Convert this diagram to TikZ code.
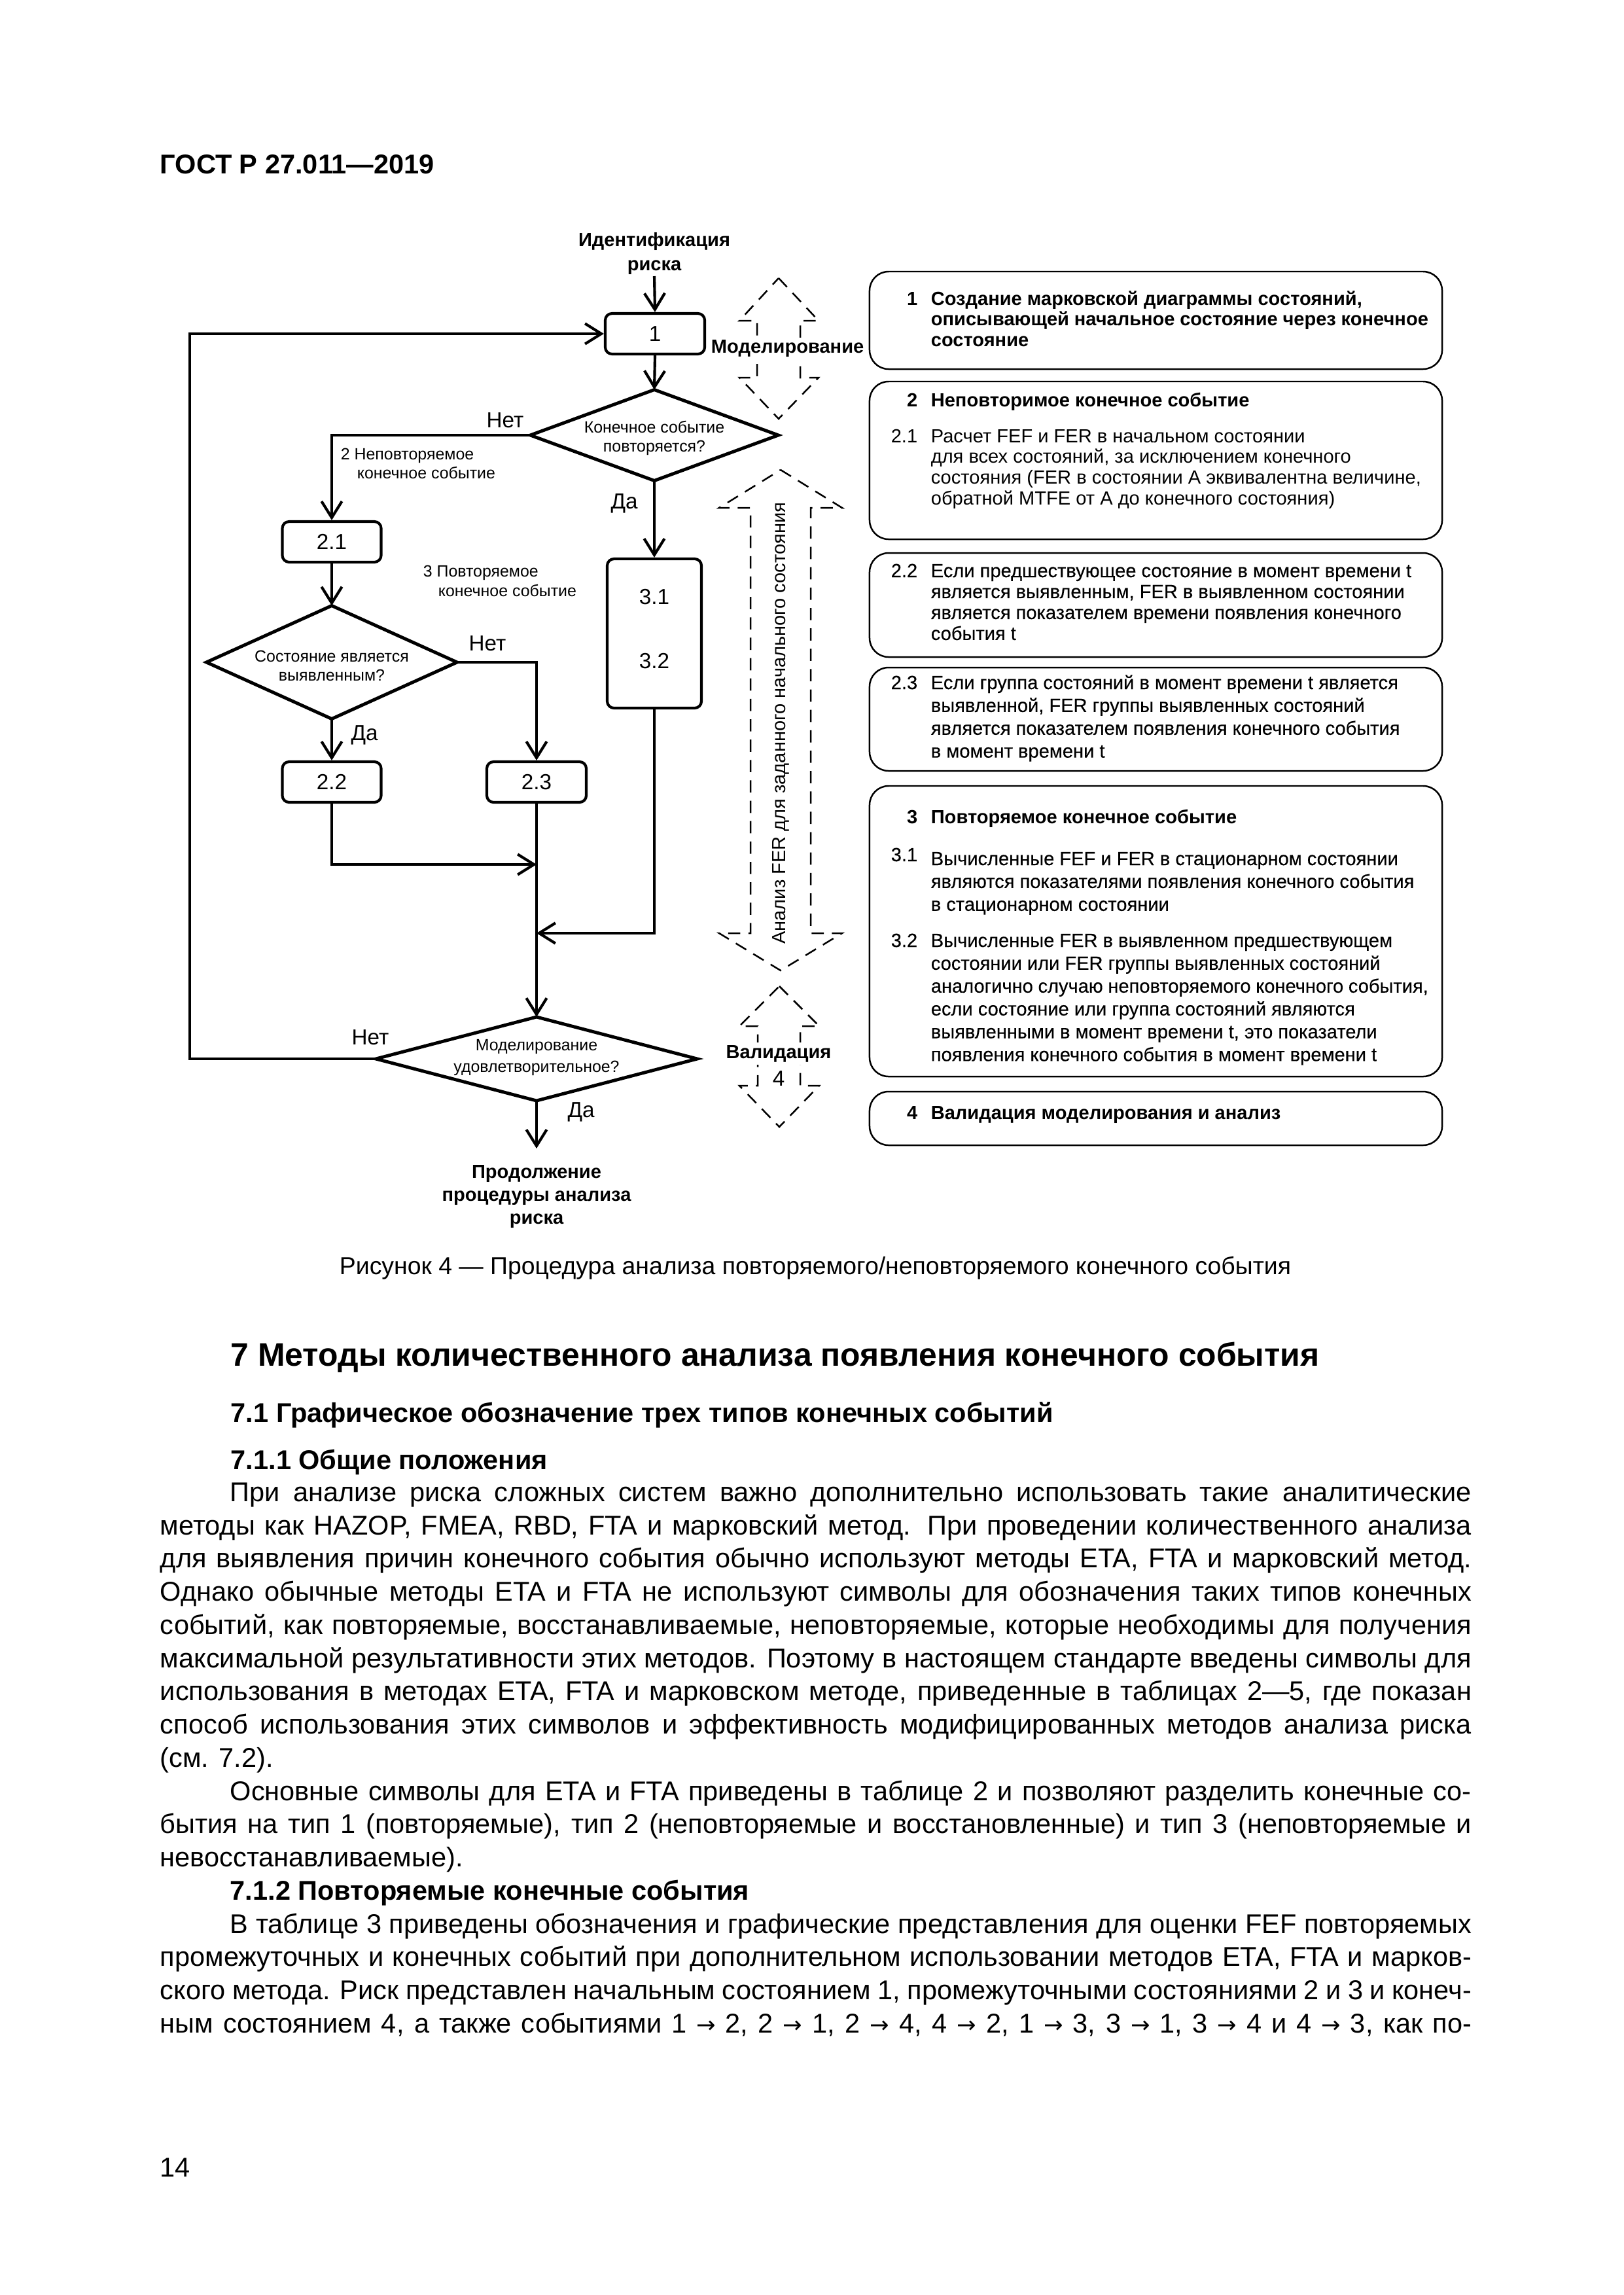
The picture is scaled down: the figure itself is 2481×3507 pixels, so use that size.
\documentclass[tikz,border=0pt]{standalone}
\usepackage{fontspec}
\setmainfont{Liberation Sans}
\newfontfamily\semib{Liberation Sans}[FakeBold=0.35]
\newfontfamily\arrfont{DejaVu Sans}
\newcommand\ar{{\arrfont\fontsize{8.5}{12}\selectfont →}}
\usetikzlibrary{arrows.meta}
\newdimen\PX \PX=0.24083pt
\def\p{0.24083pt}
\newcommand\fs[2]{\fontsize{#1}{#2}\selectfont}
\tikzset{
 fb/.style={draw, line width=1pt, rounded corners=2.5pt, inner sep=0pt, font=\fs{8}{9.6}},
 rb/.style={draw, line width=0.6pt, rounded corners=7pt, inner sep=0pt, minimum width=875*\p},
 ln/.style={line width=1pt},
 arw/.style={line width=1pt, -{Straight Barb[length=6pt,width=7.5pt]}},
 dm/.style={line width=1.2pt, line join=miter},
 da/.style={line width=0.6pt, dash pattern=on 4.5pt off 3pt},
 lbl/.style={inner sep=0pt, font=\fs{8}{9.6}},
 sm/.style={inner sep=0pt, align=center, anchor=north},
 smt/.style={inner sep=0pt, anchor=base west, font=\fs{6}{7}},
 bl/.style={inner sep=0pt, align=center, anchor=north},
 num/.style={inner sep=0pt, anchor=base east},
 bt/.style={inner sep=0pt, anchor=base west},
 body/.style={inner sep=0pt, anchor=base west, font=\fs{10}{12}},
}
\begin{document}
\begin{tikzpicture}[x=0.0846433mm,y=-0.0846433mm]
\fill[white] (0,0) rectangle (2481,3507);
\useasboundingbox (0,0) rectangle (2481,3507);

% header
\node[body, font=\bfseries\fs{10}{12}] (hdr) at (244,265) {ГОСТ Р 27.011—2019};

% dashed double arrows
\draw[da] (1190,425) -- (1251,490) -- (1223,490) -- (1223,577) -- (1251,577) -- (1190,640) -- (1130,577) -- (1157,577) -- (1157,490) -- (1130,490) -- cycle;
\draw[da] (1193,718) -- (1287,776) -- (1239,776) -- (1239,1426) -- (1287,1426) -- (1193,1483) -- (1099,1426) -- (1147,1426) -- (1147,776) -- (1099,776) -- cycle;
\draw[da] (1191,1507) -- (1252,1568) -- (1223,1568) -- (1223,1659) -- (1252,1659) -- (1191,1722) -- (1130,1659) -- (1158,1659) -- (1158,1568) -- (1130,1568) -- cycle;
\node[inner sep=1pt, fill=white, anchor=west, font=\bfseries\fs{7}{8}] (mod) at (1082,533) {Моделирование};
\node[inner sep=1pt, fill=white, font=\bfseries\fs{7}{8}] (val) at (1190,1610) {Валидация};
\node[inner sep=1pt, fill=white, font=\fs{8}{9}] (val4) at (1190,1648) {4};
\node[rotate=90, inner sep=0pt, font=\fs{7}{8}] (fer) at (1193,1105) {Анализ FER для заданного начального состояния};

% flow boxes
\node[fb, minimum width=152*\p, minimum height=62*\p] (b1) at (1001,510) {1};
\node[fb, minimum width=151*\p, minimum height=62*\p] (b21) at (507,828) {2.1};
\node[fb, minimum width=151*\p, minimum height=62*\p] (b22) at (507,1195) {2.2};
\node[fb, minimum width=152*\p, minimum height=62*\p] (b23) at (820,1195) {2.3};
\node[fb, minimum width=144*\p, minimum height=228*\p] (b3) at (1000,968) {};
\node[lbl] (t31) at (1000,912) {3.1};
\node[lbl] (t32) at (1000,1010) {3.2};

% diamonds
\coordinate (d1t) at (1000,595.5); \coordinate (d1b) at (1000,734.5);
\coordinate (d1l) at (810.5,665);  \coordinate (d1r) at (1189.5,665);
\draw[dm] (d1t) -- (d1r) -- (d1b) -- (d1l) -- cycle;
\node[sm, font=\fs{6}{7}] (d1txt) at (1000,642) {Конечное событие\\повторяется?};

\coordinate (d2t) at (507,925.5); \coordinate (d2b) at (507,1098.5);
\coordinate (d2l) at (315.5,1012); \coordinate (d2r) at (698.5,1012);
\draw[dm] (d2t) -- (d2r) -- (d2b) -- (d2l) -- cycle;
\node[sm, font=\fs{6}{7}] (d2txt) at (507,993) {Состояние является\\выявленным?};

\coordinate (d3t) at (820,1554); \coordinate (d3b) at (820,1682);
\coordinate (d3l) at (574.5,1618); \coordinate (d3r) at (1065.5,1618);
\draw[dm] (d3t) -- (d3r) -- (d3b) -- (d3l) -- cycle;
\node[sm, font=\fs{6}{7.9}] (d3txt) at (820,1588) {Моделирование\\удовлетворительное?};

% texts
\node[bl, font=\bfseries\fs{7}{8.7}] (id) at (1000,355) {Идентификация\\риска};
\node[bl, font=\bfseries\fs{7}{8.43}] (cont) at (820,1780) {Продолжение\\процедуры анализа\\риска};
\node[lbl] (no1) at (772,642) {Нет};
\node[lbl] (yes1) at (954,769) {Да};
\node[lbl] (no2) at (745,983) {Нет};
\node[lbl] (yes2) at (557,1123) {Да};
\node[lbl] (no3) at (566,1585) {Нет};
\node[lbl] (yes3) at (888,1699) {Да};
\node[smt] (n2a) at (520,702) {2 Неповторяемое};
\node[smt] (n2b) at (545,731) {конечное событие};
\node[smt] (n3a) at (646,881) {3 Повторяемое};
\node[smt] (n3b) at (669,911) {конечное событие};

% connectors
\coordinate (idend) at (1000,422);
\coordinate (j1) at (820,1321);
\coordinate (j2) at (820,1426);
\coordinate (c3) at (290,1618);
\coordinate (endc) at (820,1755);
\draw[arw] (idend) -- (b1.north);
\draw[arw] (b1.south) -- (d1t);
\draw[arw] (d1l) -| (b21.north);
\draw[arw] (d1b) -- (b3.north);
\draw[arw] (b21.south) -- (d2t);
\draw[arw] (d2b) -- (b22.north);
\draw[arw] (d2r) -| (b23.north);
\draw[arw] (b22.south) |- (j1);
\draw[arw] (b3.south) |- (j2);
\draw[arw] (b23.south) -- (d3t);
\draw[arw] (d3l) -- (c3) |- (b1.west);
\draw[arw] (d3b) -- (endc);

% right boxes
\node[rb, minimum height=149*\p] (ra) at (1766.5,489.5) {};
\node[rb, minimum height=241*\p] (rbx) at (1766.5,703.5) {};
\node[rb, minimum height=159*\p] (rc) at (1766.5,924.5) {};
\node[rb, minimum height=158*\p] (rd) at (1766.5,1099) {};
\node[rb, minimum height=444*\p] (re) at (1766.5,1423) {};
\node[rb, minimum height=82*\p] (rf) at (1766.5,1709) {};

\node[num, font=\bfseries\fs{7}{7.7}] (an) at (1403,466) {1};
\node[bt] (at) at (1422,466) {\parbox[t]{760\PX}{\bfseries\fs{7}{7.7}Создание марковской диаграммы состояний,\\описывающей начальное состояние через конечное\\состояние}};
\node[num, font=\bfseries\fs{7}{7.7}] (bn) at (1403,621) {2};
\node[bt, font=\bfseries\fs{7}{7.7}] (bh) at (1422,621) {Неповторимое конечное событие};
\node[num, font=\fs{7}{7.7}] (bn1) at (1403,676) {2.1};
\node[bt] (bt1) at (1422,676) {\parbox[t]{760\PX}{\fs{7}{7.7}Расчет FEF и FER в начальном состоянии\\для всех состояний, за исключением конечного\\состояния (FER в состоянии A эквивалентна величине,\\обратной MTFE от A до конечного состояния)}};
\node[num, font=\semib\fs{7}{7.7}] (cn) at (1403,882) {2.2};
\node[bt] (ct) at (1422,882) {\parbox[t]{760\PX}{\semib\fs{7}{7.7}Если предшествующее состояние в момент времени t\\является выявленным, FER в выявленном состоянии\\является показателем времени появления конечного\\события t}};
\node[num, font=\semib\fs{7}{8.4}] (dn) at (1403,1053) {2.3};
\node[bt] (dt) at (1422,1053) {\parbox[t]{760\PX}{\semib\fs{7}{8.4}Если группа состояний в момент времени t является\\выявленной, FER группы выявленных состояний\\является показателем появления конечного события\\в момент времени t}};
\node[num, font=\bfseries\fs{7}{8.4}] (en) at (1403,1258) {3};
\node[bt, font=\bfseries\fs{7}{8.4}] (eh) at (1422,1258) {Повторяемое конечное событие};
\node[num, font=\semib\fs{7}{8.4}] (en1) at (1403,1316) {3.1};
\node[bt] (et1) at (1422,1322) {\parbox[t]{760\PX}{\semib\fs{7}{8.4}Вычисленные FEF и FER в стационарном состоянии\\являются показателями появления конечного события\\в стационарном состоянии}};
\node[num, font=\semib\fs{7}{8.4}] (en2) at (1403,1447) {3.2};
\node[bt] (et2) at (1422,1447) {\parbox[t]{760\PX}{\semib\fs{7}{8.4}Вычисленные FER в выявленном предшествующем\\состоянии или FER группы выявленных состояний\\аналогично случаю неповторяемого конечного события,\\если состояние или группа состояний являются\\выявленными в момент времени t, это показатели\\появления конечного события в момент времени t}};
\node[num, font=\bfseries\fs{7}{8}] (fn) at (1403,1710) {4};
\node[bt, font=\bfseries\fs{7}{8}] (ft) at (1422,1710) {Валидация моделирования и анализ};

% caption
\node[inner sep=0pt, font=\fs{9}{11}] (cap) at (1246,1938) {Рисунок 4 — Процедура анализа повторяемого/неповторяемого конечного события};

% headings
\node[body, font=\bfseries\fs{12}{14}] (h7) at (352,2087) {7 Методы количественного анализа появления конечного события};
\node[body, font=\bfseries\fs{10}{12}] (h71) at (352,2173) {7.1 Графическое обозначение трех типов конечных событий};
\node[body, font=\bfseries\fs{10}{12}] (h711) at (352,2245) {7.1.1 Общие положения};

% body text
\node[body] (l1) at (351,2294) {\makebox[1897\PX][s]{При анализе риска сложных систем важно дополнительно использовать такие аналитические}};
\node[body] (l2) at (244,2345) {\makebox[2004\PX][s]{методы как HAZOP, FMEA, RBD, FTA и марковский метод. При проведении количественного анализа}};
\node[body] (l3) at (244,2395) {\makebox[2004\PX][s]{для выявления причин конечного события обычно используют методы ETA, FTA и марковский метод.}};
\node[body] (l4) at (244,2446) {\makebox[2004\PX][s]{Однако обычные методы ETA и FTA не используют символы для обозначения таких типов конечных}};
\node[body] (l5) at (244,2497) {\makebox[2004\PX][s]{событий, как повторяемые, восстанавливаемые, неповторяемые, которые необходимы для получения}};
\node[body] (l6) at (244,2548) {\makebox[2004\PX][s]{максимальной результативности этих методов. Поэтому в настоящем стандарте введены символы для}};
\node[body] (l7) at (244,2598) {\makebox[2004\PX][s]{использования в методах ETA, FTA и марковском методе, приведенные в таблицах 2—5, где показан}};
\node[body] (l8) at (244,2649) {\makebox[2004\PX][s]{способ использования этих символов и эффективность модифицированных методов анализа риска}};
\node[body] (l9) at (244,2700) {(см. 7.2).};
\node[body] (l10) at (351,2751) {\makebox[1897\PX][s]{Основные символы для ETA и FTA приведены в таблице 2 и позволяют разделить конечные со-}};
\node[body] (l11) at (244,2801) {\makebox[2004\PX][s]{бытия на тип 1 (повторяемые), тип 2 (неповторяемые и восстановленные) и тип 3 (неповторяемые и}};
\node[body] (l12) at (244,2852) {невосстанавливаемые).};
\node[body, font=\bfseries\fs{10}{12}] (l13) at (351,2903) {7.1.2 Повторяемые конечные события};
\node[body] (l14) at (351,2954) {\makebox[1897\PX][s]{В таблице 3 приведены обозначения и графические представления для оценки FEF повторяемых}};
\node[body] (l15) at (244,3004) {\makebox[2004\PX][s]{промежуточных и конечных событий при дополнительном использовании методов ETA, FTA и марков-}};
\node[body] (l16) at (244,3055) {\makebox[2004\PX][s]{ского метода. Риск представлен начальным состоянием 1, промежуточными состояниями 2 и 3 и конеч-}};
\node[body] (l17) at (244,3106) {\makebox[2004\PX][s]{ным состоянием 4, а также событиями 1 \ar{} 2, 2 \ar{} 1, 2 \ar{} 4, 4 \ar{} 2, 1 \ar{} 3, 3 \ar{} 1, 3 \ar{} 4 и 4 \ar{} 3, как по-}};

% page number
\node[body] (pg) at (244,3326) {14};
\end{tikzpicture}
\end{document}
